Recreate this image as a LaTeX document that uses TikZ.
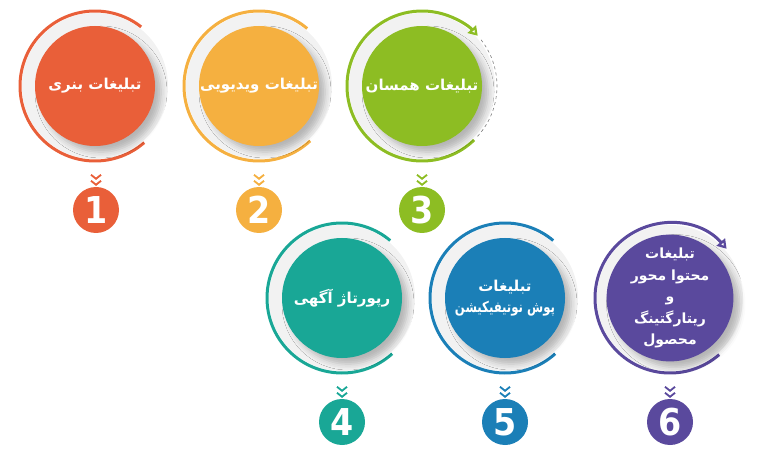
\documentclass[tikz,border=0pt]{standalone}
\usepackage{fontspec}
\usepackage{graphicx}
\newfontfamily\farsi[Script=Arabic]{DejaVu Sans}
\newfontfamily\digits{DejaVu Sans Condensed}
\TeXXeTstate=1
\usetikzlibrary{arrows.meta,shadows.blur}
\definecolor{cOrange}{RGB}{233,95,57}
\definecolor{cYellow}{RGB}{245,176,64}
\definecolor{cGreen}{RGB}{141,189,35}
\definecolor{cTeal}{RGB}{25,167,150}
\definecolor{cBlue}{RGB}{27,127,183}
\definecolor{cPurple}{RGB}{90,73,157}
\tikzset{
  bubble/.style={circle, minimum size=120pt, inner sep=0pt, text=white, align=center,
    font=\farsi\bfseries\fontsize{15}{21}\selectfont,
    blur shadow={shadow xshift=6pt, shadow yshift=-6pt, shadow blur radius=6pt, shadow opacity=25}},
  badge/.style={circle, minimum size=46pt, inner sep=0pt, text=white,
    font=\digits\bfseries\fontsize{37}{37}\selectfont},
  halo/.style={fill=black!5},
  rim/.style={line width=3pt},
  chev/.pic={\draw[line width=1.8pt] (-5,3) -- (0,-1) -- (5,3) (-5,-3) -- (0,-7) -- (5,-3);}
}
\begin{document}
\begin{tikzpicture}[x=1pt,y=1pt]
  \useasboundingbox (0,0) rectangle (768,450);
  \coordinate (p1) at (95,364);
  \coordinate (p2) at (259,364);
  \coordinate (p3) at (422,364);
  \coordinate (p4) at (342,152);
  \coordinate (p5) at (505,152);
  \coordinate (p6) at (670,152);
  % grey rings behind the bubbles
  \fill[halo] (p1) circle (73pt);
  \fill[halo] (p2) circle (73pt);
  \fill[halo] (p3) circle (73pt);
  \fill[halo] (p4) circle (73pt);
  \fill[halo] (p5) circle (73pt);
  \fill[halo] (p6) circle (73pt);
  \draw[rim, cOrange, shift={(p1)}] (-49:75pt) arc[start angle=-49, end angle=-308, radius=75pt];
  \draw[rim, cYellow, shift={(p2)}] (-47:75pt) arc[start angle=-47, end angle=-310, radius=75pt];
  \draw[rim, cGreen, shift={(p3)}, -{Triangle[open, length=9pt, width=11pt]}]
    (-46:75pt) arc[start angle=-46, end angle=-318, radius=75pt];
  \draw[gray, dashed, line width=0.6pt, shift={(p3)}] (38:75pt) arc[start angle=38, end angle=-44, radius=75pt];
  \draw[rim, cTeal, shift={(p4)}] (-48:75pt) arc[start angle=-48, end angle=-310, radius=75pt];
  \draw[rim, cBlue, shift={(p5)}] (-48:75pt) arc[start angle=-48, end angle=-310, radius=75pt];
  \draw[rim, cPurple, shift={(p6)}, -{Triangle[open, length=9pt, width=11pt]}]
    (-49:75pt) arc[start angle=-49, end angle=-319, radius=75pt];
  % bubbles
  \node[bubble, fill=cOrange] (c1) at (p1) {\beginR تبلیغات بنری\endR};
  \node[bubble, fill=cYellow] (c2) at (p2) {\beginR تبلیغات ویدیویی\endR};
  \node[bubble, fill=cGreen] (c3) at (p3) {\beginR تبلیغات همسان\endR};
  \node[bubble, fill=cTeal] (c4) at (p4) {\beginR رپورتاژ آگهی\endR};
  \node[bubble, fill=cBlue] (c5) at (p5) {\beginR تبلیغات\endR\\\scalebox{0.78}[1]{\beginR پوش نوتیفیکیشن\endR}};
  \node[bubble, fill=cPurple, font=\farsi\bfseries\fontsize{14}{21.5}\selectfont] (c6) at (p6)
    {\beginR تبلیغات\endR\\\beginR محتوا محور\endR\\\beginR و\endR\\\beginR ریتارگتینگ\endR\\\beginR محصول\endR};
  % numbers
  \node[badge, fill=cOrange] (n1) at (96,240) {1};
  \node[badge, fill=cYellow] (n2) at (259,240) {2};
  \node[badge, fill=cGreen] (n3) at (422,240) {3};
  \node[badge, fill=cTeal] (n4) at (342,28) {4};
  \node[badge, fill=cBlue] (n5) at (505,28) {5};
  \node[badge, fill=cPurple] (n6) at (670,28) {6};
  \pic[cOrange] at ([yshift=9pt]n1.north) {chev};
  \pic[cYellow] at ([yshift=9pt]n2.north) {chev};
  \pic[cGreen] at ([yshift=9pt]n3.north) {chev};
  \pic[cTeal] at ([yshift=9pt]n4.north) {chev};
  \pic[cBlue] at ([yshift=9pt]n5.north) {chev};
  \pic[cPurple] at ([yshift=9pt]n6.north) {chev};
\end{tikzpicture}
\end{document}
